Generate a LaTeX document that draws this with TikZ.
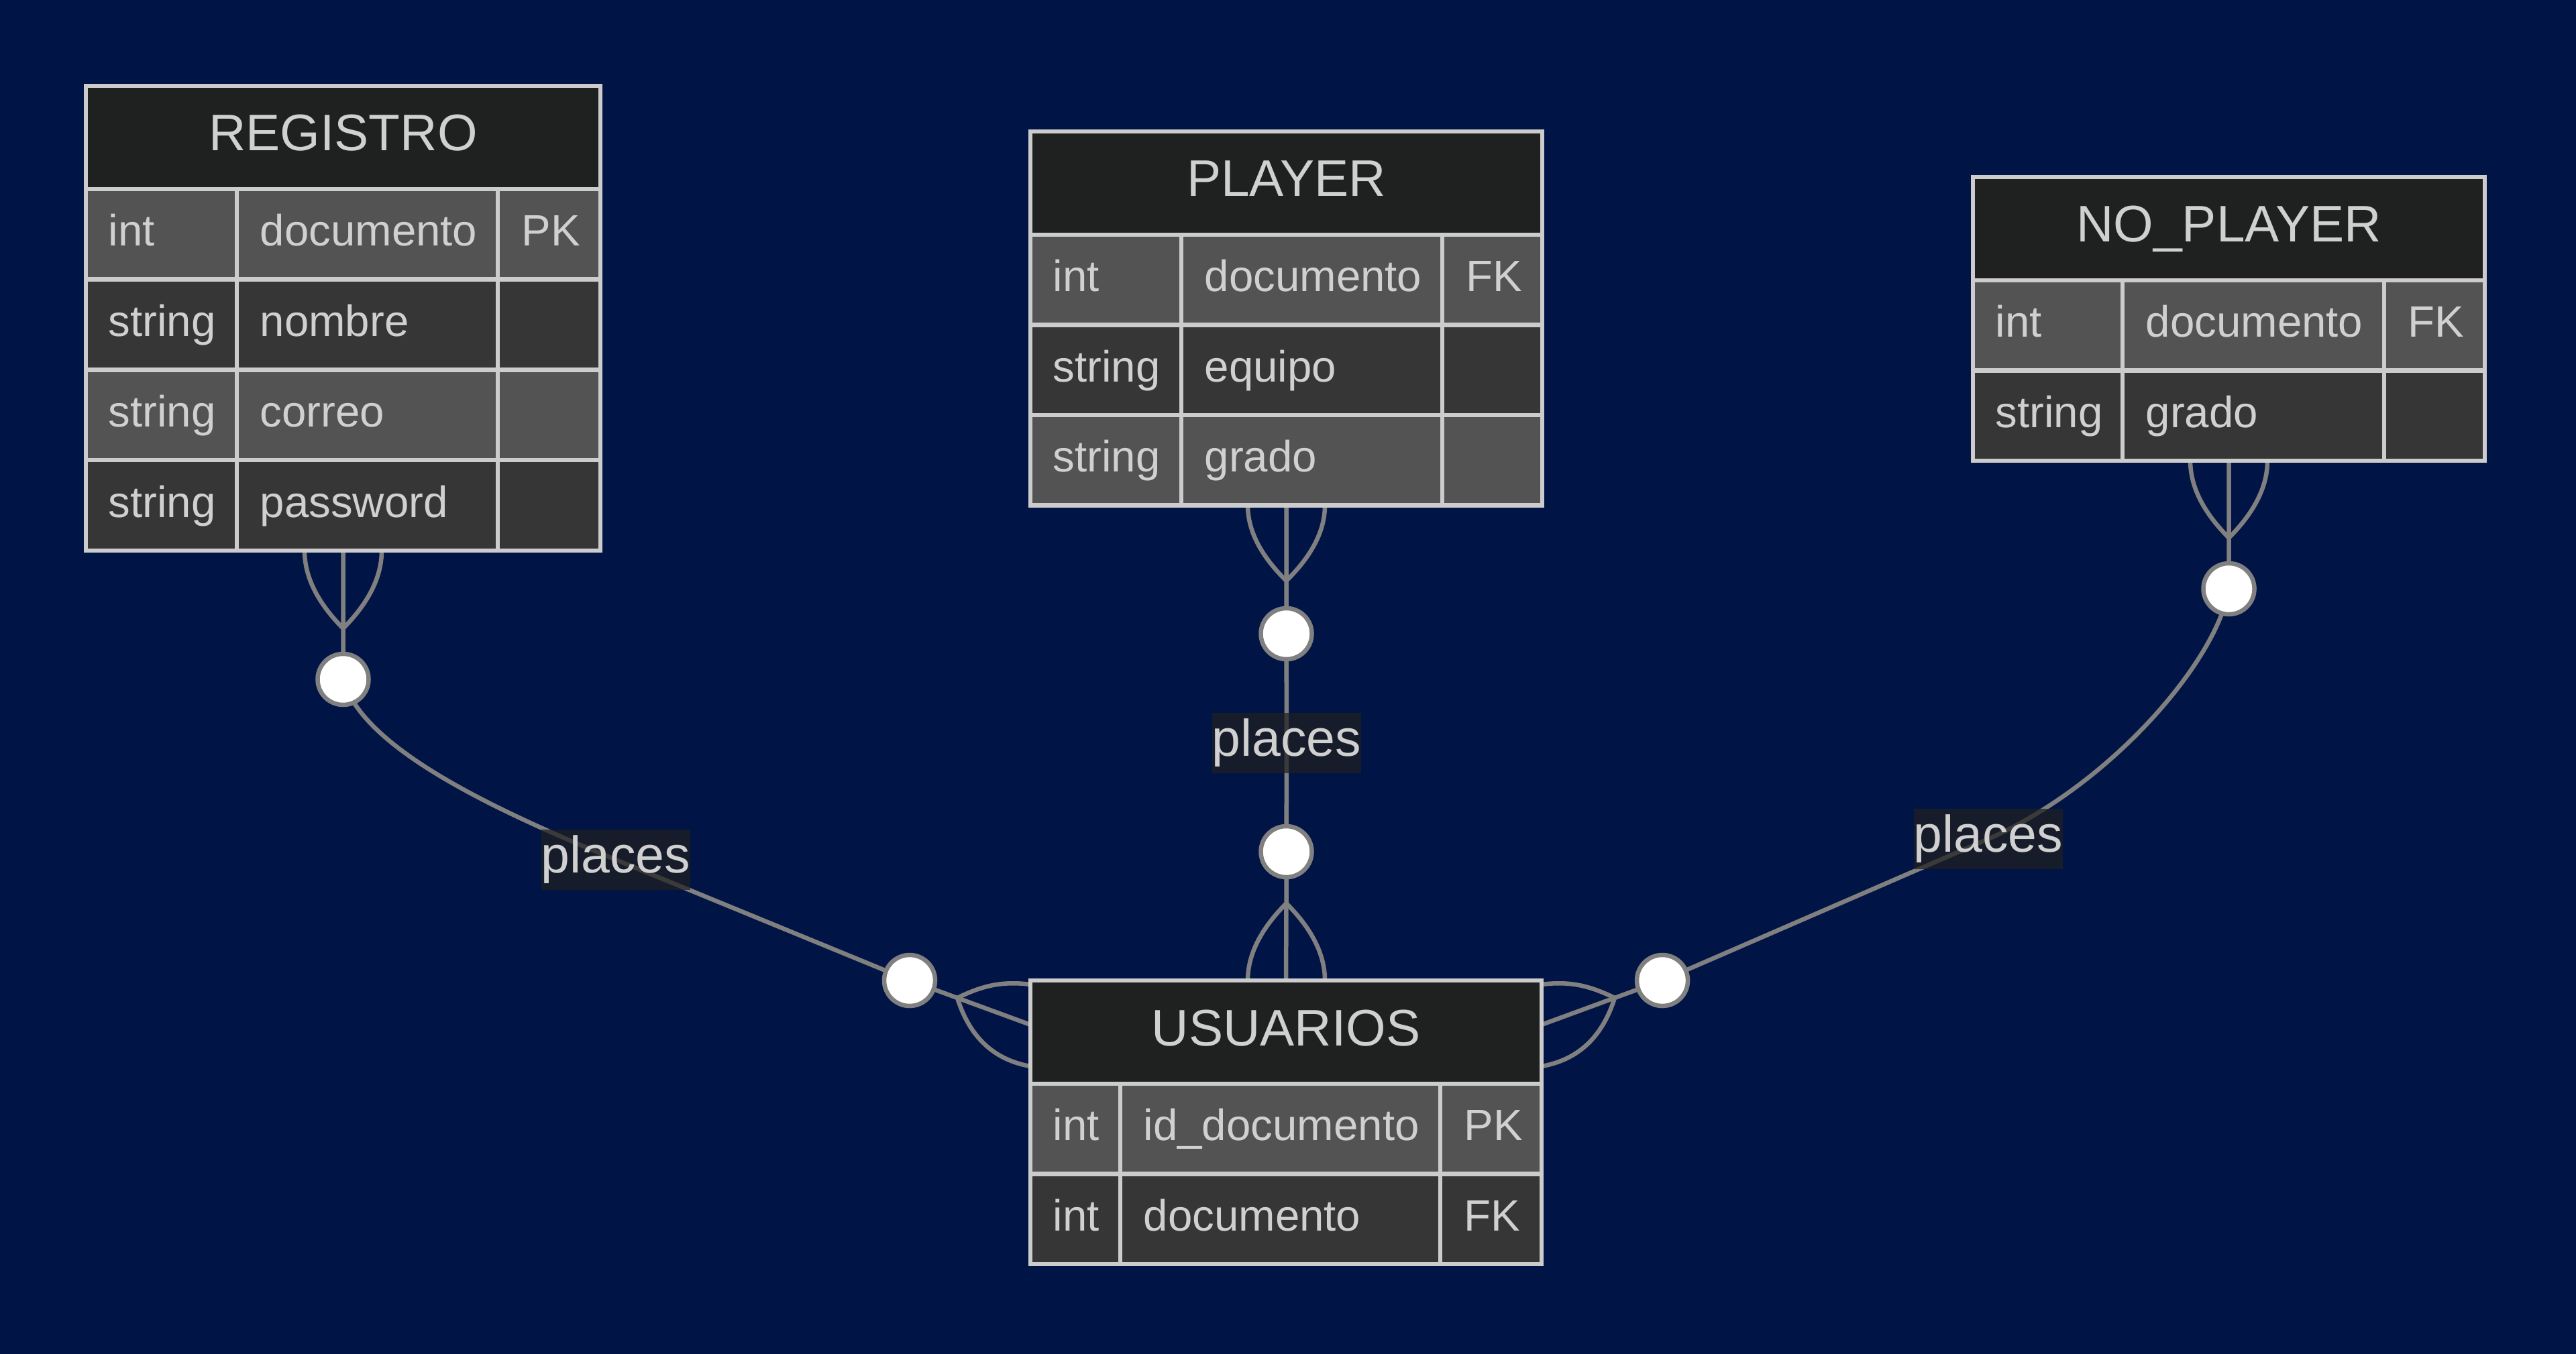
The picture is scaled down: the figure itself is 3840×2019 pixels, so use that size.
\documentclass[tikz,border=0pt]{standalone}
\usepackage{fontspec}
\setmainfont{Liberation Sans}
\usetikzlibrary{calc}
\definecolor{bg}{RGB}{1,20,70}
\definecolor{edgegray}{RGB}{128,128,128}
\definecolor{hdr}{RGB}{31,32,32}
\definecolor{rowA}{RGB}{83,83,83}
\definecolor{rowB}{RGB}{54,54,54}
\definecolor{bordc}{RGB}{204,204,204}
\definecolor{txt}{RGB}{208,208,208}
\definecolor{lblbg}{RGB}{31,32,32}

\tikzset{
 conn/.style={draw=edgegray, line width=0.065cm},
 ocircle/.style={circle, draw=edgegray, fill=white, line width=0.065cm, minimum size=0.76cm, inner sep=0pt},
 lbl/.style={fill=lblbg, fill opacity=0.72, text opacity=1, text=txt, font=\fontsize{21.9}{26}\selectfont, minimum width=2.22cm, minimum height=0.9cm, inner sep=0pt},
 gridline/.style={draw=bordc, line width=0.065cm},
 tblframe/.style={draw=bordc, line width=0.065cm, rectangle, inner sep=0pt},
 hdrtext/.style={anchor=base, inner sep=0pt, text=txt, font=\fontsize{21.8}{26}\selectfont},
 celltext/.style={anchor=base west, inner sep=0pt, text=txt, font=\fontsize{18.6}{22}\selectfont},
}

% #1 top y, #2 bottom y, #3 fill, #4 type, #5 name, #6 key, #7 node prefix
\newcommand{\errow}[7]{%
  \fill[#3] (\tL,#1) rectangle (\tR,#2);
  \draw[gridline] (\tL,#1) -- (\tR,#1) (\cA,#1) -- (\cA,#2) (\cB,#1) -- (\cB,#2);
  \node[celltext] (#7t) at ({\tL+33},{(#1+#2)/2+17.5}) {#4};
  \node[celltext] (#7n) at ({\cA+34},{(#1+#2)/2+17.5}) {#5};
  \node[celltext] (#7k) at ({\cB+35},{(#1+#2)/2+17.5}) {#6};
}
% #1 top, #2 header bottom, #3 title, #4 node name
\newcommand{\erhead}[4]{%
  \fill[hdr] (\tL,#1) rectangle (\tR,#2);
  \node[hdrtext] (#4) at ({(\tL+\tR)/2},{(#1+#2)/2+20}) {#3};
}

\begin{document}
\begin{tikzpicture}[x=0.01cm,y=-0.01cm]
\fill[bg] (0,0) rectangle (3840,2019);
\useasboundingbox (0,0) rectangle (3840,2019);

% coordinates of connector points
\coordinate (tR1) at (511.5,937);
\coordinate (tP1) at (1917.5,866);
\coordinate (tN1) at (3322.5,802);
\coordinate (tU1) at (1427,1488);
\coordinate (eU1) at (1536,1528);
\coordinate (tU2) at (1917.5,1347);
\coordinate (tU3) at (2407,1488);
\coordinate (eU3) at (2298,1528);

% label positions
\path (918,1282) coordinate (pl1) (1918,1108) coordinate (pl2) (2964,1251) coordinate (pl3);

% invisible table anchors for connectors
\node[minimum width=7.67cm, minimum height=6.93cm, inner sep=0pt] (registro) at (511.5,474.5) {};
\node[minimum width=7.63cm, minimum height=5.575cm, inner sep=0pt] (player) at (1917.5,474.75) {};
\node[minimum width=7.63cm, minimum height=4.23cm, inner sep=0pt] (noplayer) at (3322.5,475.5) {};
\node[minimum width=7.62cm, minimum height=4.23cm, inner sep=0pt] (usuarios) at (1917,1673.5) {};

\coordinate (cR) at (511.5,1013);
\coordinate (cU1) at (1356,1462);
\coordinate (cP) at (1917.5,945);
\coordinate (cU2) at (1917.5,1270);
\coordinate (cN) at (3322.5,878);
\coordinate (cU3) at (2478,1462);

% edges
\draw[conn] (registro.south) -- (tR1) -- (cR) .. controls (540,1115) and (733,1206) .. (pl1) -- (cU1) -- (tU1) -- (eU1);
\draw[conn] (player.south) -- (tP1) -- (cP) -- (pl2) -- (cU2) -- (tU2) -- (usuarios.north);
\draw[conn] (noplayer.south) -- (tN1) -- (cN) .. controls (3305,985) and (3147,1170) .. (pl3) -- (cU3) -- (tU3) -- (eU3);

% crow's feet
\draw[conn] (tR1) .. controls (473,898.5) and (454,859.5) .. (454,821);
\draw[conn] (tR1) .. controls (550,898.5) and (569,859.5) .. (569,821);
\draw[conn] (tP1) .. controls (1879.2,828.5) and (1860,791) .. (1860,753.5);
\draw[conn] (tP1) .. controls (1955.8,828.5) and (1975,791) .. (1975,753.5);
\draw[conn] (tN1) .. controls (3284.2,763.7) and (3265,725.3) .. (3265,687);
\draw[conn] (tN1) .. controls (3360.8,763.7) and (3380,725.3) .. (3380,687);
\draw[conn] (tU2) .. controls (1879.2,1385.3) and (1860,1423.7) .. (1860,1462);
\draw[conn] (tU2) .. controls (1955.8,1385.3) and (1975,1423.7) .. (1975,1462);
\draw[conn] (tU1) .. controls (1460,1472) and (1490,1462) .. (1536,1468);
\draw[conn] (tU1) .. controls (1445,1545) and (1480,1580) .. (1536,1590);
\draw[conn] (tU3) .. controls (2374,1472) and (2344,1462) .. (2298,1468);
\draw[conn] (tU3) .. controls (2389,1545) and (2354,1580) .. (2298,1590);

% circles
\node[ocircle] (oR) at (cR) {};
\node[ocircle] (oU1) at (cU1) {};
\node[ocircle] (oP) at (cP) {};
\node[ocircle] (oU2) at (cU2) {};
\node[ocircle] (oN) at (cN) {};
\node[ocircle] (oU3) at (cU3) {};

% labels
\node[lbl] (l1) at (pl1) {places};
\node[lbl] (l2) at (pl2) {places};
\node[lbl] (l3) at (pl3) {places};

% REGISTRO
\def\tL{128}\def\tR{895}\def\cA{353}\def\cB{742}
\erhead{128}{282}{REGISTRO}{registroT}
\errow{282}{416.75}{rowA}{int}{documento}{PK}{reg1}
\errow{416.75}{551.5}{rowB}{string}{nombre}{}{reg2}
\errow{551.5}{686.25}{rowA}{string}{correo}{}{reg3}
\errow{686.25}{821}{rowB}{string}{password}{}{reg4}
\draw[tblframe] (\tL,128) rectangle (\tR,821);

% PLAYER
\def\tL{1536}\def\tR{2299}\def\cA{1761}\def\cB{2150}
\erhead{196}{350}{PLAYER}{playerT}
\errow{350}{484.5}{rowA}{int}{documento}{FK}{pla1}
\errow{484.5}{619}{rowB}{string}{equipo}{}{pla2}
\errow{619}{753.5}{rowA}{string}{grado}{}{pla3}
\draw[tblframe] (\tL,196) rectangle (\tR,753.5);

% NO_PLAYER
\def\tL{2941}\def\tR{3704}\def\cA{3164}\def\cB{3554}
\erhead{264}{418}{NO\_PLAYER}{noplayerT}
\errow{418}{552.5}{rowA}{int}{documento}{FK}{npl1}
\errow{552.5}{687}{rowB}{string}{grado}{}{npl2}
\draw[tblframe] (\tL,264) rectangle (\tR,687);

% USUARIOS
\def\tL{1536}\def\tR{2298}\def\cA{1670}\def\cB{2147}
\erhead{1462}{1616}{USUARIOS}{usuariosT}
\errow{1616}{1750.5}{rowA}{int}{id\_documento}{PK}{usu1}
\errow{1750.5}{1885}{rowB}{int}{documento}{FK}{usu2}
\draw[tblframe] (\tL,1462) rectangle (\tR,1885);
\end{tikzpicture}
\end{document}
